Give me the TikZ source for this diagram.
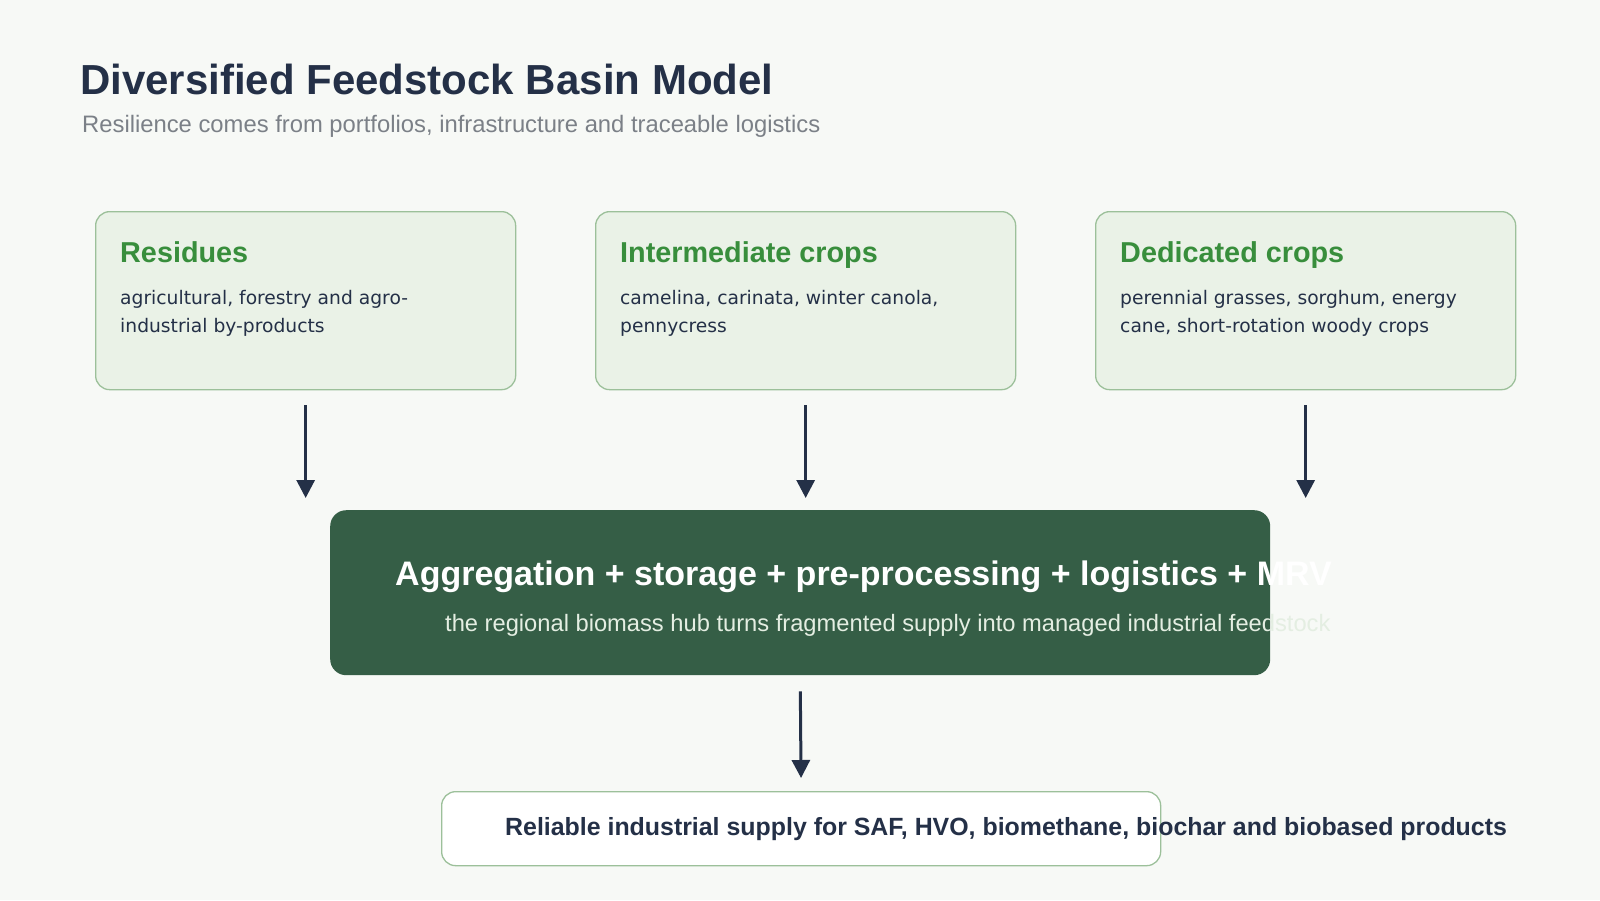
\documentclass[tikz,border=0pt]{standalone}
\usepackage{fontspec}
\setmainfont{Liberation Sans}
\newfontfamily\dejavu{DejaVu Sans}
\usetikzlibrary{arrows.meta}
\definecolor{pagebg}{HTML}{F7F9F6}
\definecolor{inkblue}{HTML}{243047}
\definecolor{leafgreen}{HTML}{388E3C}
\definecolor{cardfill}{HTML}{EAF2E7}
\definecolor{cardline}{HTML}{9CC09A}
\definecolor{hubgreen}{HTML}{355E46}
\definecolor{hubtext}{HTML}{E4EEE2}
\definecolor{subgray}{HTML}{7B8087}
\tikzstyle{card}=[draw=cardline,fill=cardfill,line width=1.3pt,
                  rounded corners=14pt,anchor=north west,
                  minimum width=420pt,minimum height=178pt]
\tikzstyle{cardtitle}=[anchor=base west,inner sep=0pt,text=leafgreen,
                       font=\bfseries\fontsize{28.8}{34}\selectfont]
\tikzstyle{cardbody}=[anchor=north west,inner sep=0pt,align=left,text=inkblue,
                      font=\dejavu\fontsize{18.7}{28}\selectfont]
\tikzstyle{flow}=[draw=inkblue,line width=3pt,
                  -{Triangle[length=18pt,width=18pt]}]

\begin{document}
\begin{tikzpicture}[x=1pt,y=-1pt]
    \fill[pagebg] (0,0) rectangle (1600,900);
    \useasboundingbox (0,0) rectangle (1600,900);
    % heading
    \node (title) at (80,94) [anchor=base west,inner sep=0pt,text=inkblue,
        font=\bfseries\fontsize{42}{48}\selectfont]
        {Diversified Feedstock Basin Model};
    \node (subtitle) at (82,132) [anchor=base west,inner sep=0pt,text=subgray,
        font=\fontsize{23.8}{28}\selectfont]
        {Resilience comes from portfolios, infrastructure and traceable logistics};
    % feedstock cards
    \node (res) at (95,211) [card]{};
    \node (mid) at (595,211) [card]{};
    \node (ded) at (1095,211) [card]{};
    \node (restitle) at (120,262) [cardtitle]{Residues};
    \node (midtitle) at (620,262) [cardtitle]{Intermediate crops};
    \node (dedtitle) at (1120,262) [cardtitle]{Dedicated crops};
    \node (resbody) at (120,290) [cardbody]
        {agricultural, forestry and agro-\\industrial by-products};
    \node (midbody) at (620,290) [cardbody]
        {camelina, carinata, winter canola,\\pennycress};
    \node (dedbody) at (1120,290) [cardbody]
        {perennial grasses, sorghum, energy\\cane, short-rotation woody crops};
    % hub
    \node (hub) at (330,510) [anchor=north west,fill=hubgreen,rounded corners=16pt,
        minimum width=940pt,minimum height=165pt]{};
    \node (hubtitle) at (395,585) [anchor=base west,inner sep=0pt,text=white,
        font=\bfseries\fontsize{34}{40}\selectfont]
        {Aggregation + storage + pre-processing + logistics + MRV};
    \node (hubsub) at (445,631) [anchor=base west,inner sep=0pt,text=hubtext,
        font=\fontsize{23.7}{28}\selectfont]
        {the regional biomass hub turns fragmented supply into managed industrial feedstock};
    % output
    \node (out) at (441,791) [anchor=north west,draw=cardline,fill=white,
        line width=1.3pt,rounded corners=14pt,
        minimum width=719pt,minimum height=74pt]{};
    \node (outtext) at (505,835) [anchor=base west,inner sep=0pt,text=inkblue,
        font=\bfseries\fontsize{24.9}{30}\selectfont]
        {Reliable industrial supply for SAF, HVO, biomethane, biochar and biobased products};
    % arrows
    \draw[flow,shorten <=15pt,shorten >=12pt] (res.south) -- (res.south |- hub.north);
    \draw[flow,shorten <=15pt,shorten >=12pt] (mid.south) -- (mid.south |- hub.north);
    \draw[flow,shorten <=15pt,shorten >=12pt] (ded.south) -- (ded.south |- hub.north);
    \draw[flow,shorten <=16pt,shorten >=13pt] (hub.south) -- (out.north);
  \end{tikzpicture}
\end{document}
